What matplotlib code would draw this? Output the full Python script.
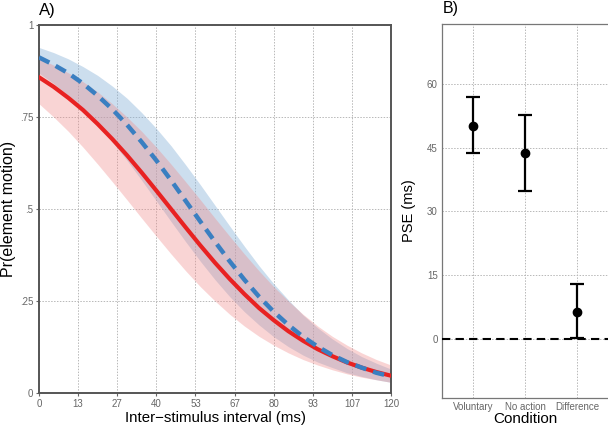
import numpy as np
import matplotlib
matplotlib.use('Agg')
from matplotlib import pyplot as plt

plt.rcParams['font.family'] = ['Liberation Sans', 'DejaVu Sans']

# Panel A: psychometric fits (every 5 ms)
isi_ms = [0, 5, 10, 15, 20, 25, 30, 35, 40, 45, 50, 55, 60,
          65, 70, 75, 80, 85, 90, 95, 100, 105, 110, 115, 120]
voluntary_fit = [0.858, 0.832, 0.802, 0.769, 0.731, 0.690, 0.646, 0.599, 0.550, 0.500, 0.450, 0.401, 0.354,
                 0.310, 0.269, 0.231, 0.198, 0.168, 0.142, 0.119, 0.100, 0.083, 0.069, 0.057, 0.047]
voluntary_upper = [0.909, 0.891, 0.870, 0.846, 0.818, 0.786, 0.750, 0.711, 0.668, 0.622, 0.574, 0.525, 0.475,
                   0.426, 0.378, 0.332, 0.289, 0.250, 0.214, 0.182, 0.154, 0.130, 0.109, 0.091, 0.076]
voluntary_lower = [0.786, 0.750, 0.711, 0.668, 0.622, 0.574, 0.525, 0.475, 0.426, 0.378, 0.332, 0.289, 0.250,
                   0.214, 0.182, 0.154, 0.130, 0.109, 0.091, 0.076, 0.063, 0.052, 0.043, 0.036, 0.029]
no_action_fit = [0.912, 0.892, 0.869, 0.841, 0.808, 0.771, 0.729, 0.682, 0.632, 0.578, 0.522, 0.466, 0.411,
                 0.358, 0.308, 0.262, 0.221, 0.185, 0.153, 0.126, 0.103, 0.084, 0.069, 0.055, 0.045]
no_action_upper = [0.939, 0.925, 0.908, 0.887, 0.863, 0.834, 0.801, 0.762, 0.719, 0.672, 0.620, 0.566, 0.510,
                   0.454, 0.399, 0.346, 0.297, 0.253, 0.212, 0.177, 0.147, 0.121, 0.099, 0.081, 0.065]
no_action_lower = [0.869, 0.841, 0.808, 0.771, 0.729, 0.682, 0.632, 0.578, 0.522, 0.466, 0.411, 0.358, 0.308,
                   0.262, 0.221, 0.185, 0.153, 0.126, 0.103, 0.084, 0.069, 0.055, 0.045, 0.036, 0.029]

x_ticks = [0, 40 / 3, 80 / 3, 40, 160 / 3, 200 / 3, 80, 280 / 3, 320 / 3, 120]
x_tick_labels = ['0', '13', '27', '40', '53', '67', '80', '93', '107', '120']
y_ticks = [0, 0.25, 0.5, 0.75, 1]
y_tick_labels = ['0', '.25', '.5', '.75', '1']

# Panel B: PSE estimates
conditions = ['Voluntary', 'No action', 'Difference']
pse_mean = [50.1, 43.8, 6.3]
pse_low = [43.8, 34.8, 0.2]
pse_high = [57.0, 52.7, 12.9]
pse_ticks = [0, 15, 30, 45, 60]

RED = '#e82222'
BLUE = '#3a7fc1'
TICK_GREY = '#666666'
GRID_KW = dict(color='#b8b8b8', linestyle=(0, (1.5, 1.5)), linewidth=0.7)

fig = plt.figure(figsize=(6.08, 4.28), dpi=100)

# ---- Panel A ----
ax_a = fig.add_axes([39 / 608, 35 / 428, 352 / 608, 368 / 428])
ax_a.fill_between(isi_ms, no_action_lower, no_action_upper, color='#87b1d7', alpha=0.42, linewidth=0, zorder=2)
ax_a.fill_between(isi_ms, voluntary_lower, voluntary_upper, color='#f08a8a', alpha=0.36, linewidth=0, zorder=2)
ax_a.plot(isi_ms, voluntary_fit, color=RED, linewidth=3.0, zorder=4)
ax_a.plot(isi_ms, no_action_fit, color=BLUE, linewidth=3.2, dashes=(2.6, 1.6), zorder=5)
ax_a.set_xlim(0, 120)
ax_a.set_ylim(0, 1)
ax_a.set_xticks(x_ticks)
ax_a.set_xticklabels(x_tick_labels)
ax_a.set_yticks(y_ticks)
ax_a.set_yticklabels(y_tick_labels)
ax_a.grid(True, **GRID_KW)
ax_a.set_axisbelow(True)
ax_a.tick_params(labelsize=7, colors=TICK_GREY, length=2.5, width=0.8, pad=1.5)
for spine in ax_a.spines.values():
    spine.set_color('#555555')
    spine.set_linewidth(1.4)
ax_a.set_xlabel('Inter\u2212stimulus interval (ms)', fontsize=10.8, labelpad=2)
ax_a.set_ylabel('Pr(element motion)', fontsize=11.5, labelpad=3)
fig.text(39 / 608, 1 - 10 / 428, 'A)', fontsize=12, va='center', ha='left')

# ---- Panel B ----
ax_b = fig.add_axes([442 / 608, 30 / 428, 166 / 608, 374 / 428])
positions = np.arange(1, len(conditions) + 1)
err = [np.array(pse_mean) - np.array(pse_low), np.array(pse_high) - np.array(pse_mean)]
ax_b.axhline(0, color='black', linewidth=1.5, dashes=(4, 2.5), zorder=3)
ax_b.errorbar(positions, pse_mean, yerr=err, fmt='o', color='black', markersize=6,
              elinewidth=1.6, capsize=5, capthick=1.6, zorder=4)
ax_b.set_xlim(0.4, 3.6)
ax_b.set_ylim(-13.9, 74.1)
ax_b.set_xticks(positions)
ax_b.set_xticklabels(conditions)
ax_b.set_yticks(pse_ticks)
ax_b.grid(True, **GRID_KW)
ax_b.set_axisbelow(True)
ax_b.tick_params(labelsize=7, colors=TICK_GREY, length=0, pad=3)
for spine in ax_b.spines.values():
    spine.set_color('#777777')
    spine.set_linewidth(0.9)
ax_b.spines['right'].set_visible(False)
ax_b.set_xlabel('Condition', fontsize=11, labelpad=0)
ax_b.set_ylabel('PSE (ms)', fontsize=10.5, labelpad=8)
fig.text(443 / 608, 1 - 9 / 428, 'B)', fontsize=11.5, va='center', ha='left')

fig.savefig('out.png', dpi=100)
